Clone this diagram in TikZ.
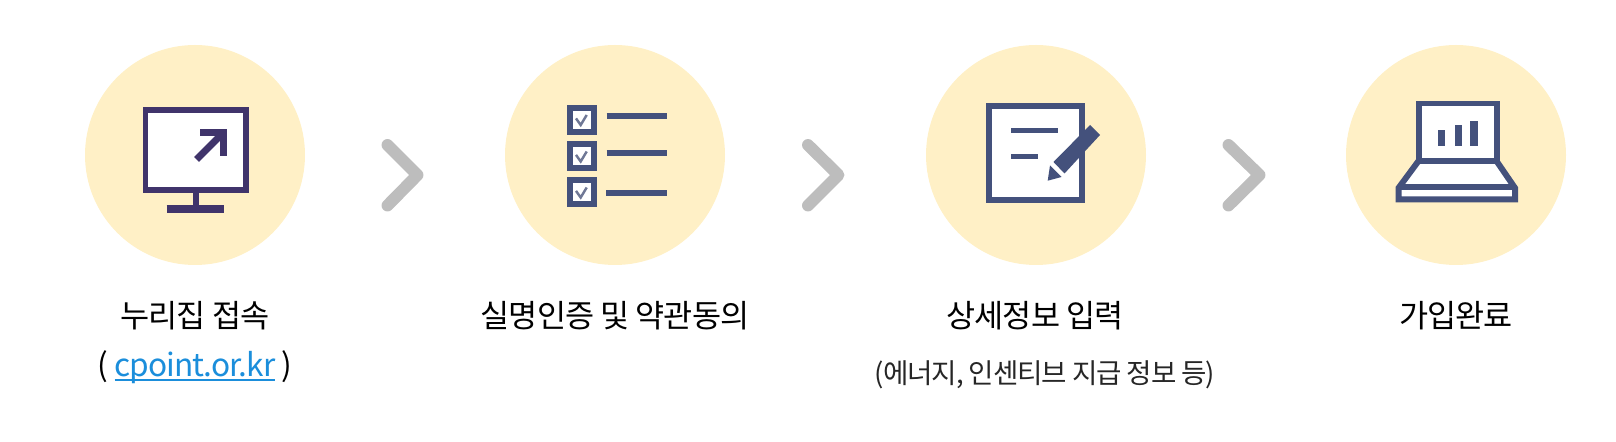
\documentclass[tikz,border=0pt]{standalone}
\usepackage{fontspec}
\setmainfont{Noto Sans CJK KR}
\definecolor{discfill}{HTML}{FFF0C6}
\definecolor{monink}{HTML}{40346B}
\definecolor{iconink}{HTML}{44517C}
\definecolor{checkink}{HTML}{6F7896}
\definecolor{chevgray}{HTML}{BDBDBD}
\definecolor{linkblue}{HTML}{1B8EDB}
\newcommand{\linkline}[1]{\setbox0=\hbox{#1}\rlap{\rule[-1.1pt]{\wd0}{0.65pt}}\box0}
\tikzset{
  disc/.style={circle,fill=discfill,minimum size=2.2cm,inner sep=0pt},
  chev/.style={chevgray,line width=3.4pt,line cap=round,line join=round},
  title/.style={anchor=base,inner sep=0pt,font=\fontsize{9}{10}\selectfont\addfontfeature{LetterSpace=-3},text=black},
  note/.style={anchor=base,inner sep=0pt,font=\fontsize{7.85}{9}\selectfont\addfontfeature{LetterSpace=-4},text=black!85},
  ink/.style={draw=#1,line width=1.7pt,line join=miter},
  ink/.default=iconink
}
\begin{document}
\begin{tikzpicture}
\useasboundingbox (0,0) rectangle (16.16,4.42);

\node[disc] (nuri) at (1.95,2.87) {};
\node[disc] (auth) at (6.15,2.87) {};
\node[disc] (detail) at (10.36,2.87) {};
\node[disc] (done) at (14.56,2.87) {};

\draw[chev] (3.875,2.97) -- (4.175,2.67) -- (3.875,2.365);
\draw[chev] (8.08,2.97) -- (8.385,2.67) -- (8.08,2.365);
\draw[chev] (12.285,2.97) -- (12.595,2.67) -- (12.285,2.365);

% monitor
\begin{scope}[shift={(nuri)}]
\draw[ink=monink,fill=white] (-0.495,0.45) rectangle (0.51,-0.35);
\draw[ink=monink] (0.01,-0.35) -- (0.01,-0.54);
\draw[ink=monink,line width=2.3pt] (-0.283,-0.54) -- (0.293,-0.54);
\draw[ink=monink,line width=2pt] (0.015,-0.045) -- (0.275,0.215);
\draw[ink=monink,line width=2pt] (0.05,0.225) -- (0.285,0.225) -- (0.285,-0.01);
\end{scope}

% checklist
\begin{scope}[shift={(auth)}]
\draw[ink,fill=white] (-0.45,0.233) rectangle (-0.21,0.473);
\draw[ink,fill=white] (-0.45,-0.132) rectangle (-0.21,0.108);
\draw[ink,fill=white] (-0.45,-0.492) rectangle (-0.21,-0.252);
\draw[ink=checkink,line width=0.7pt] (-0.39,0.366) -- (-0.343,0.3) -- (-0.283,0.4);
\draw[ink=checkink,line width=0.7pt] (-0.39,0.001) -- (-0.343,-0.065) -- (-0.283,0.035);
\draw[ink=checkink,line width=0.7pt] (-0.39,-0.359) -- (-0.343,-0.425) -- (-0.283,-0.325);
\draw[ink,line width=1.6pt] (-0.083,0.39) -- (0.517,0.39);
\draw[ink,line width=1.6pt] (-0.083,0.02) -- (0.517,0.02);
\draw[ink,line width=1.6pt] (-0.09,-0.383) -- (0.517,-0.383);
\end{scope}

% note and pencil
\begin{scope}[shift={(detail)}]
\draw[ink,line width=1.75pt,fill=white] (-0.47,0.49) rectangle (0.463,-0.45);
\draw[ink,line width=1.3pt] (-0.25,0.247) -- (0.223,0.247);
\draw[ink,line width=1.3pt] (-0.25,-0.017) -- (0.017,-0.017);
\fill[iconink] (0.175,-0.07) -- (0.54,0.3) -- (0.64,0.2) -- (0.285,-0.185) -- cycle;
\fill[iconink] (0.14,-0.105) -- (0.255,-0.22) -- (0.117,-0.257) -- cycle;
\end{scope}

% laptop
\begin{scope}[shift={(done)}]
\draw[ink,fill=white] (-0.375,0.515) rectangle (0.405,-0.06);
\draw[ink,fill=white] (-0.375,-0.06) -- (0.405,-0.06) -- (0.59,-0.33) -- (0.59,-0.443) -- (-0.575,-0.443) -- (-0.575,-0.33) -- cycle;
\draw[ink] (-0.575,-0.32) -- (0.59,-0.32);
\draw[ink,line width=2pt] (-0.143,0.09) -- (-0.143,0.25);
\draw[ink,line width=2pt] (0.023,0.09) -- (0.023,0.30);
\draw[ink,line width=2pt] (0.18,0.09) -- (0.18,0.343);
\end{scope}

\node[title] (nuri label) at (1.95,1.14) {누리집 접속};
\node[title] (nuri link) at (1.95,0.65) {( \textcolor{linkblue}{\linkline{cpoint.or.kr}} )};
\node[title] (auth label) at (6.15,1.14) {실명인증 및 약관동의};
\node[title] (detail label) at (10.35,1.14) {상세정보 입력};
\node[note] (detail note) at (10.45,0.58) {(에너지, 인센티브 지급 정보 등)};
\node[title] (done label) at (14.56,1.14) {가입완료};
\end{tikzpicture}
\end{document}
